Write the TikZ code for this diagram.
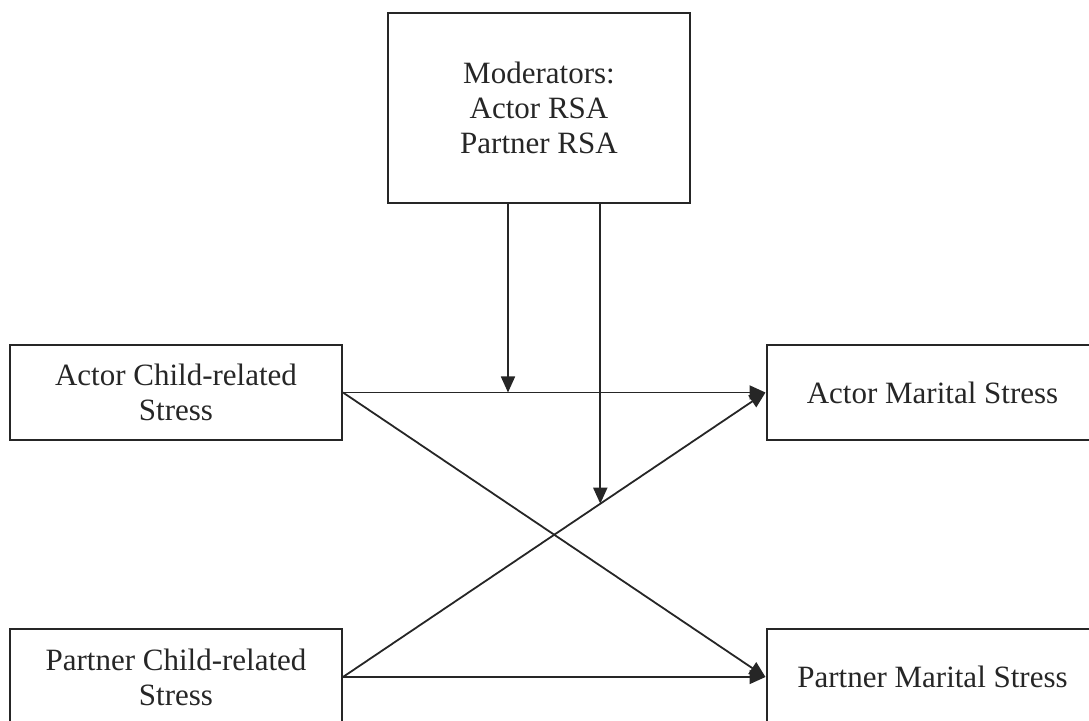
\documentclass[tikz,border=0pt]{standalone}
\usepackage{fontspec}
\setmainfont{Liberation Serif}
\usetikzlibrary{positioning, arrows.meta}

\begin{document}
\begin{tikzpicture}[x=0.5pt, y=-0.5pt, on grid, line width=0.9pt,
    box/.style={rectangle, draw=black!85, line width=1pt, minimum width=166pt, minimum height=47.5pt,
      align=center, text=black!85, font=\fontsize{15.5}{17.5}\selectfont, inner sep=0pt},
    arr/.style={draw=black!85, -{Triangle[length=8pt, width=7pt]}}]
  \path[use as bounding box, clip] (0,0) rectangle (1089,721);

  \node[box] (ac) at (176,392.5) {Actor Child-related\\Stress};
  \node[box, right=378.25pt of ac] (am) {Actor Marital Stress};
  \node[box, below=142.25pt of ac] (pc) {Partner Child-related\\Stress};
  \node[box, below=142.25pt of am] (pm) {Partner Marital Stress};
  \node[box, minimum width=151pt, minimum height=95pt, above right=142.25pt and 181.5pt of ac] (mod)
    {Moderators:\\Actor RSA\\Partner RSA};

  \draw[arr] (ac.east) -- (am.west);
  \draw[arr] (ac.east) -- (pm.west);
  \draw[arr] (pc.east) -- (pm.west);
  \draw[arr] (pc.east) -- (am.west);

  % moderator paths
  \coordinate (m1) at (508,203);
  \path (pc.east) -- (am.west) coordinate[pos=0.609] (x2);
  \draw[arr] (mod.south -| m1) -- (m1 |- ac.east);
  \draw[arr] (mod.south -| x2) -- (x2);
\end{tikzpicture}
\end{document}
